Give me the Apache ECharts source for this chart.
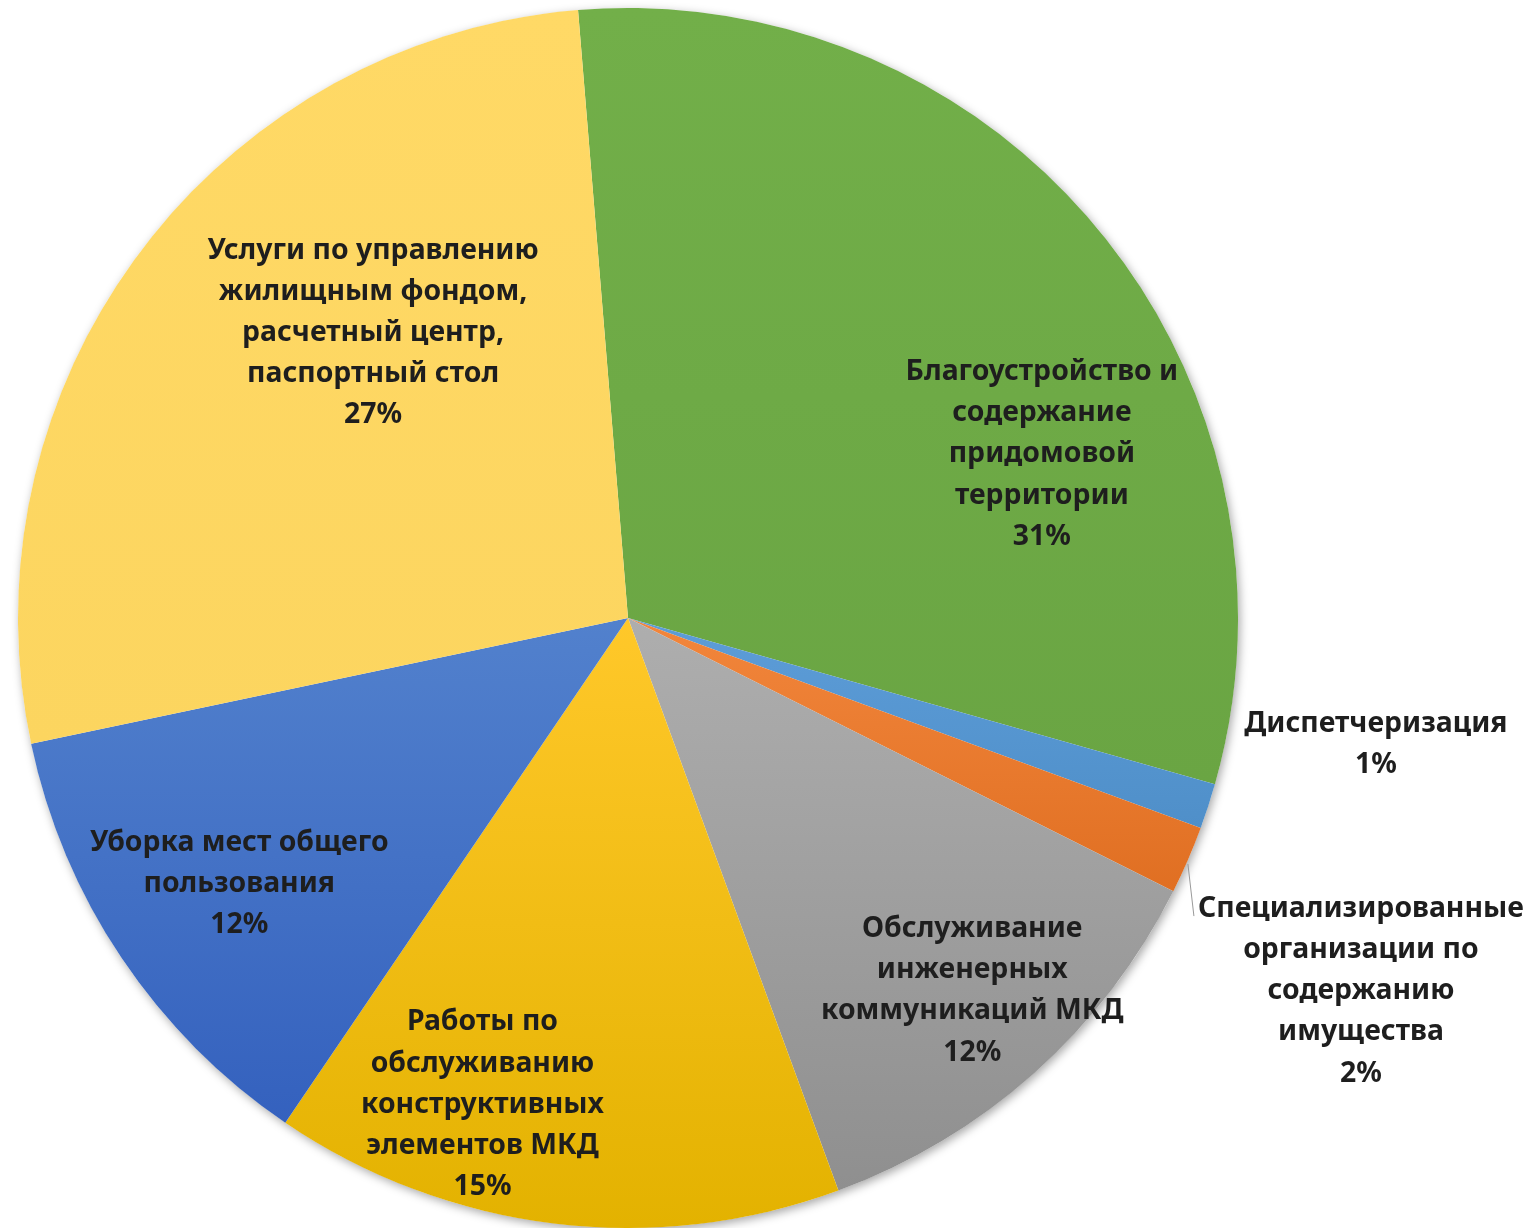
<!DOCTYPE html>
<html><head><meta charset="utf-8">
<script src="https://cdn.jsdelivr.net/npm/echarts@6/dist/echarts.min.js"></script>
<style>html,body{margin:0;padding:0;background:#fff}#chart{width:1526px;height:1228px}</style>
</head><body><div id="chart"></div>
<script>
const categories = [
  'Благоустройство и\nсодержание\nпридомовой\nтерритории',
  'Диспетчеризация',
  'Специализированные\nорганизации по\nсодержанию\nимущества',
  'Обслуживание\nинженерных\nкоммуникаций МКД',
  'Работы по\nобслуживанию\nконструктивных\nэлементов МКД',
  'Уборка мест общего\nпользования',
  'Услуги по управлению\nжилищным фондом,\nрасчетный центр,\nпаспортный стол'
];
const values = [30.7, 1.2, 1.8, 12.0, 15.1, 12.2, 27.0];

const topColors    = ['#72AF49', '#5D9DD8', '#F2863C', '#AEAEAE', '#FFC82A', '#5281CD', '#FFD966'];
const bottomColors = ['#6AA543', '#4F8FC9', '#E06F22', '#8F8F8F', '#E3B200', '#3461BE', '#FCD55F'];
const outsideLabel = [false, true, true, false, false, false, false];
const labelOffsets = [[176, 32], [31, -62], [5, 131], [139, 143], [-108, 181], [-133, 94], [-8, -101]];

function hasFont(name) {
  const c = document.createElement('canvas').getContext('2d');
  const s = 'Услуги по управлению';
  c.font = 'bold 40px monospace';
  const a = c.measureText(s).width;
  c.font = 'bold 40px "' + name + '", monospace';
  return c.measureText(s).width !== a;
}
const fontCandidates = ['Noto Sans', 'Open Sans', 'Liberation Sans', 'DejaVu Sans'];
const fontFamily = fontCandidates.find(hasFont) || 'sans-serif';
const fontSize = (function () {
  const c = document.createElement('canvas').getContext('2d');
  c.font = 'bold 40px "' + fontFamily + '"';
  const w = c.measureText('Услуги по управлению').width;
  return Math.round(40 * 331 / w * 10) / 10;
})();

const chart = echarts.init(document.getElementById('chart'), null, { renderer: 'canvas' });

const pieData = categories.map((name, i) => ({
  name: name,
  value: values[i],
  itemStyle: {
    color: new echarts.graphic.LinearGradient(0, 0, 0, 1, [
      { offset: 0, color: topColors[i] },
      { offset: 1, color: bottomColors[i] }
    ])
  },
  label: { position: outsideLabel[i] ? 'outside' : 'inside' },
  labelLine: { show: i === 2 }
}));

const center = [628, 618];
const radius = 610;

chart.setOption({
  backgroundColor: '#ffffff',
  animation: false,
  series: [
    {
      type: 'pie',
      silent: true,
      center: center,
      radius: radius,
      z: 1,
      data: [{ value: 1, name: '' }],
      label: { show: false },
      labelLine: { show: false },
      itemStyle: {
        color: '#ffffff',
        shadowBlur: 10,
        shadowColor: 'rgba(0,0,0,0.35)',
        shadowOffsetX: 2,
        shadowOffsetY: 3
      }
    },
    {
      type: 'pie',
      center: center,
      radius: radius,
      z: 2,
      startAngle: 94.7,
      clockwise: true,
      avoidLabelOverlap: false,
      percentPrecision: 0,
      data: pieData,
      itemStyle: { borderWidth: 0 },
      label: {
        show: true,
        formatter: '{b}\n{d}%',
        fontFamily: fontFamily,
        fontWeight: 'bold',
        fontSize: fontSize,
        lineHeight: 41.2,
        color: '#1e1e1e',
        align: 'center',
        alignTo: 'none'
      },
      labelLine: {
        length: 0,
        length2: 0,
        lineStyle: { color: '#9a9a9a', width: 1 }
      },
      labelLayout: function (p) {
        const i = p.dataIndex;
        const r = p.labelRect;
        const off = labelOffsets[i];
        const cx = r.x + r.width / 2 + off[0];
        const cy = r.y + r.height / 2 + off[1];
        const res = { x: cx, y: cy, align: 'center', verticalAlign: 'middle' };
        if (i === 2 && p.labelLinePoints && p.labelLinePoints.length) {
          const start = p.labelLinePoints[0];
          res.labelLinePoints = [
            [start[0], start[1] + 4],
            [cx - r.width / 2 - 4, cy - r.height / 2 + 28]
          ];
        }
        return res;
      }
    }
  ]
});
</script>
</body></html>
